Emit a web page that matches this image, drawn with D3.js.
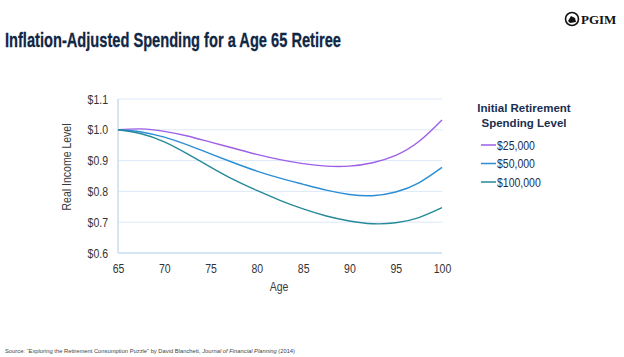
<!DOCTYPE html>
<html><head><meta charset="utf-8">
<script src="https://cdn.jsdelivr.net/npm/d3@7"></script>
<style>
body{margin:0;background:#fff;}
svg{display:block;}
</style></head>
<body><svg id="c" width="624" height="357"></svg>
<script>
const ages = [65,67.5,70,72.5,75,77.5,80,82.5,85,87.5,90,92.5,95,97.5,100];
const s25k  = [1.000,1.003,0.995,0.980,0.960,0.940,0.920,0.903,0.890,0.882,0.882,0.893,0.917,0.962,1.032];
const s50k  = [1.000,0.993,0.976,0.951,0.922,0.893,0.866,0.843,0.823,0.804,0.790,0.786,0.798,0.828,0.878];
const s100k = [1.000,0.987,0.961,0.922,0.879,0.838,0.803,0.771,0.743,0.720,0.704,0.695,0.698,0.715,0.747];
const seriesNames = ["$25,000","$50,000","$100,000"];
const seriesColors = ["#9d5fe6","#2b8ed4","#26899a"];
const xTicks = [65,70,75,80,85,90,95,100];
const yTicks = [0.6,0.7,0.8,0.9,1.0,1.1];

const svg = d3.select("#c");
const sans = "'Liberation Sans',Arial,sans-serif";
const L=118, R=442, T=99, B=253;
const x = d3.scaleLinear().domain([65,100]).range([L,R]);
const y = d3.scaleLinear().domain([0.6,1.1]).range([B,T]);

function condense(sel, f){
  sel.each(function(){
    const w = this.getComputedTextLength();
    d3.select(this).attr("textLength", w*f).attr("lengthAdjust","spacingAndGlyphs");
  });
}

// title
svg.append("text").attr("x",5).attr("y",47).text("Inflation-Adjusted Spending for a Age 65 Retiree")
  .attr("font-family",sans).attr("font-weight","bold").attr("font-size",21).attr("fill","#0f2645")
  .attr("stroke","#0f2645").attr("stroke-width",0.3)
  .attr("textLength",336).attr("lengthAdjust","spacingAndGlyphs");

// logo
const lg = svg.append("g").attr("transform","translate(572,19)");
lg.append("circle").attr("r",6.5).attr("fill","#fff").attr("stroke","#111").attr("stroke-width",1.6);
lg.append("path").attr("d","M-4,2 L-1,-3 L3,-1 L4,3 L-2,4 Z").attr("fill","#111");
svg.append("text").attr("x",581).attr("y",24).text("PGIM").attr("font-family","'Liberation Serif','DejaVu Serif',serif")
  .attr("font-weight","bold").attr("font-size",13).attr("fill","#111");

// grid
svg.append("g").selectAll("line").data(yTicks.slice(1)).join("line")
  .attr("x1",L).attr("x2",R).attr("y1",d=>y(d)).attr("y2",d=>y(d))
  .attr("stroke","#dce9f8").attr("stroke-width",1);
// axes lines
svg.append("line").attr("x1",L).attr("x2",L).attr("y1",T).attr("y2",B).attr("stroke","#c9ddf3").attr("stroke-width",1.5);
svg.append("line").attr("x1",L).attr("x2",R).attr("y1",B).attr("y2",B).attr("stroke","#c9ddf3").attr("stroke-width",1.5);

// axes via d3
const yAxis = svg.append("g").attr("transform",`translate(${L},0)`)
  .call(d3.axisLeft(y).tickValues(yTicks).tickFormat(d=>"$"+d3.format(".1f")(d)).tickSize(0).tickPadding(10));
yAxis.select(".domain").remove();
yAxis.selectAll("text").attr("font-family",sans).attr("font-size",12.5).attr("fill","#333").call(condense,0.84);
const xAxis = svg.append("g").attr("transform",`translate(0,${B})`)
  .call(d3.axisBottom(x).tickValues(xTicks).tickSize(0).tickPadding(11));
xAxis.select(".domain").remove();
xAxis.selectAll("text").attr("font-family",sans).attr("font-size",12.5).attr("fill","#333").call(condense,0.84);

// axis titles
svg.append("text").attr("x",279).attr("y",291).attr("text-anchor","middle").text("Age")
  .attr("font-family",sans).attr("font-size",12.5).attr("fill","#3b3b3b").call(condense,0.84);
svg.append("text").attr("transform","translate(71,167) rotate(-90)").attr("text-anchor","middle").text("Real Income Level")
  .attr("font-family",sans).attr("font-size",12.5).attr("fill","#3b3b3b").call(condense,0.84);

// lines
const series = [s25k,s50k,s100k];
const line = d3.line().x((d,i)=>x(ages[i])).y(d=>y(d)).curve(d3.curveNatural);
series.forEach((s,k)=>{
  svg.append("path").datum(s).attr("d",line).attr("fill","none").attr("stroke",seriesColors[k]).attr("stroke-width",1.4);
});

// legend
const lt = svg.append("text").attr("text-anchor","middle").attr("font-family",sans)
  .attr("font-weight","bold").attr("font-size",11.5).attr("fill","#1a2e4f");
lt.append("tspan").attr("x",524).attr("y",112).text("Initial Retirement");
lt.append("tspan").attr("x",524).attr("y",127).text("Spending Level");
seriesNames.forEach((n,k)=>{
  const yy = 145 + k*18.5;
  svg.append("line").attr("x1",481).attr("x2",496).attr("y1",yy).attr("y2",yy).attr("stroke",seriesColors[k]).attr("stroke-width",1.5);
  svg.append("text").attr("x",497).attr("y",yy+4.5).text(n).attr("font-family",sans).attr("font-size",12.5).attr("fill","#1a2e4f").call(condense,0.84);
});

// source
const src = svg.append("text").attr("x",5).attr("y",353).attr("font-family",sans)
  .attr("font-size",5.8).attr("fill","#444");
src.append("tspan").text("Source: \u201cExploring the Retirement Consumption Puzzle\u201d by David Blanchett, ");
src.append("tspan").attr("font-style","italic").text("Journal of Financial Planning");
src.append("tspan").text(" (2014)");
</script>
</body></html>
